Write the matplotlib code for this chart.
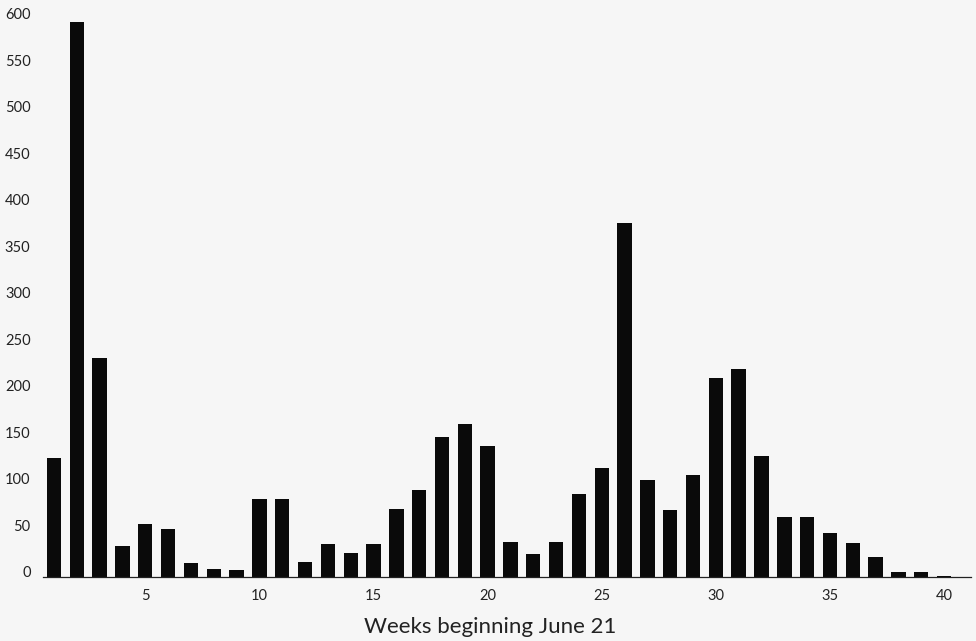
import matplotlib
matplotlib.use("Agg")
import matplotlib.pyplot as plt

# Weekly counts, weeks beginning June 21
weeks = list(range(1, 41))
counts = [128, 597, 236, 34, 57, 52, 16, 9, 8, 84,
          84, 17, 36, 26, 36, 74, 94, 151, 165, 141,
          38, 25, 38, 90, 118, 381, 105, 73, 110, 215,
          224, 131, 65, 65, 48, 37, 22, 6, 6, 2]
x_ticks = [5, 10, 15, 20, 25, 30, 35, 40]
y_ticks = [0, 50, 100, 150, 200, 250, 300, 350, 400, 450, 500, 550, 600]
x_label = "Weeks beginning June 21"

plt.rcParams["font.family"] = ["Lato", "DejaVu Sans"]
bg = "#f6f6f6"

fig = plt.figure(figsize=(9.76, 6.41), dpi=100, facecolor=bg)
ax = fig.add_axes([0.0441, 0.0991, 0.9508, 0.8923], facecolor=bg)

ax.bar(weeks, counts, width=0.63, color="#0a0a0a", edgecolor="none")

ax.set_xlim(0.52, 41.18)
ax.set_ylim(0, 615)

for side in ("top", "right", "left"):
    ax.spines[side].set_visible(False)
ax.spines["bottom"].set_linewidth(0.9)
ax.spines["bottom"].set_color("#222222")

ax.set_xticks(x_ticks)
ax.set_xticklabels([str(t) for t in x_ticks])
ax.set_yticks(y_ticks)
ax.set_yticklabels([str(t) for t in y_ticks])
ax.tick_params(axis="both", length=0, labelsize=10.5, colors="#222222")
ax.tick_params(axis="x", pad=8)
ax.tick_params(axis="y", pad=9)
for lbl in ax.get_yticklabels():
    lbl.set_verticalalignment("baseline")

fig.text(490 / 976, 1 - 627 / 641, x_label, ha="center", va="center",
         fontsize=16, color="#222222")

fig.savefig("out.png", dpi=100, facecolor=bg)
